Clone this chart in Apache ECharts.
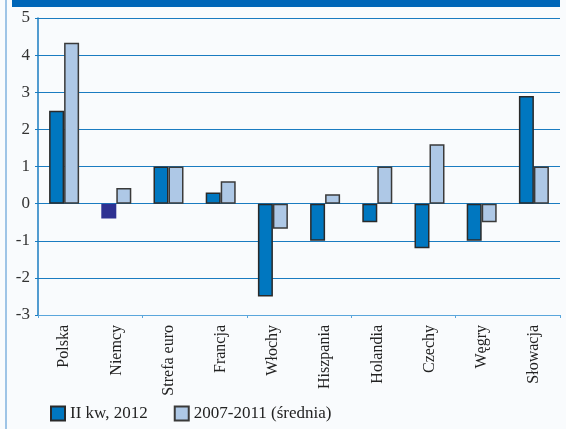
<!DOCTYPE html>
<html><head><meta charset="utf-8">
<script src="https://cdn.jsdelivr.net/npm/echarts@6/dist/echarts.min.js"></script>
<style>html,body{margin:0;padding:0;background:#f9fbfd}#c{width:566px;height:429px}</style>
</head><body><div id="c"></div>
<script>
const categories = ['Polska','Niemcy','Strefa euro','Francja','Włochy','Hiszpania','Holandia','Czechy','Węgry','Słowacja'];
const q2_2012 = [2.5,-0.4,1.0,0.3,-2.5,-1.0,-0.5,-1.2,-1.0,2.9];
const avg2007_2011 = [4.33,0.42,1.0,0.6,-0.68,0.25,1.0,1.6,-0.5,1.0];
const seriesNames = ['II kw, 2012','2007-2011 (średnia)'];
const yTicks = [-3,-2,-1,0,1,2,3,4,5];

const font = 'Liberation Serif, DejaVu Serif, serif';
const chart = echarts.init(document.getElementById('c'));
chart.setOption({
  backgroundColor:'#f9fbfd',
  animation:false,
  textStyle:{fontFamily:font},
  graphic:[
    {type:'rect',shape:{x:12,y:0,width:548,height:7},style:{fill:'#0066b8'}},
    {type:'line',shape:{x1:6,y1:0,x2:6,y2:429},style:{stroke:'#7fb2de',lineWidth:1.5}}
  ],
  legend:{
    left:45,bottom:2,itemWidth:14,itemHeight:14,itemGap:26,icon:'rect',
    textStyle:{fontFamily:font,fontSize:17,color:'#222'},
    data:seriesNames
  },
  grid:{left:38,right:6,top:18,bottom:114},
  xAxis:[{
    type:'category',data:categories,position:'bottom',
    axisLine:{show:false},axisTick:{show:false},
    axisLabel:{rotate:90,fontSize:16,color:'#222',fontFamily:font,margin:10}
  },{
    type:'category',data:categories,position:'bottom',
    axisLine:{onZero:true,lineStyle:{color:'#5aa6dc',width:1}},
    axisTick:{show:true,length:3,inside:false,lineStyle:{color:'#5aa6dc'}},
    axisLabel:{show:false}
  }],
  yAxis:{
    type:'value',min:-3,max:5,interval:1,
    axisLine:{show:true,lineStyle:{color:'#1a7cc1',width:1.5}},
    axisTick:{show:true,length:3,lineStyle:{color:'#1a7cc1'}},
    axisLabel:{fontSize:17,color:'#333',fontFamily:font,margin:8,
      formatter:v=>yTicks.includes(v)?String(v):''},
    splitLine:{lineStyle:{color:'#1a7cc1',width:1.2}}
  },
  series:[{
    name:seriesNames[0],type:'bar',barWidth:15,barGap:'0%',
    data:q2_2012.map((v,i)=>i===1?{value:v,itemStyle:{color:'#2e3192',borderColor:'#2e3192'}}:v),
    itemStyle:{color:'#0077c0',borderColor:'#2a2a2a',borderWidth:1.5}
  },{
    name:seriesNames[1],type:'bar',barWidth:15,
    data:avg2007_2011,
    itemStyle:{color:'#aec8e6',borderColor:'#3a3a3a',borderWidth:1.5}
  }]
});
</script></body></html>
